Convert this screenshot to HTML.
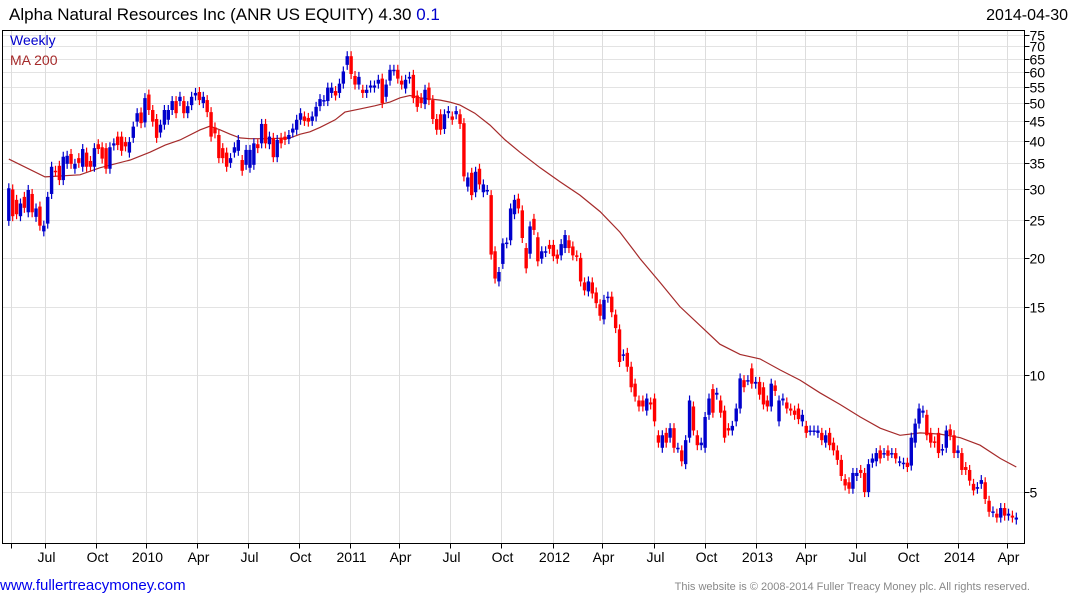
<!DOCTYPE html>
<html><head><meta charset="utf-8">
<style>
html,body{margin:0;padding:0;background:#fff;}
body{width:1075px;height:600px;overflow:hidden;font-family:"Liberation Sans",sans-serif;}
svg{display:block}
</style></head>
<body>
<svg id="chart" width="1075" height="600" xmlns="http://www.w3.org/2000/svg" font-family="Liberation Sans, sans-serif">
  <text x="9" y="20" font-size="17" fill="#000">Alpha Natural Resources Inc (ANR US EQUITY) 4.30 <tspan fill="#0000cc">0.1</tspan></text>
  <text x="1068" y="20" font-size="16" fill="#000" text-anchor="end">2014-04-30</text>
  <g id="grid"></g>
  <g id="ma"></g>
  <g id="candles"></g>
  <rect x="2.5" y="30.5" width="1022" height="513" fill="none" stroke="#000" stroke-width="1"/>
  <g id="axes"></g>
  <text x="10" y="45" font-size="14" fill="#0000cc">Weekly</text>
  <text x="10" y="65" font-size="14" fill="#a52a2a">MA 200</text>
  <text x="0" y="590" font-size="15" fill="#0000ee">www.fullertreacymoney.com</text>
  <text x="1030" y="590" font-size="11" fill="#888" text-anchor="end">This website is © 2008-2014 Fuller Treacy Money plc. All rights reserved.</text>
</svg>
<script>
const opens = [24.9,30.0,28.2,25.6,28.7,26.2,29.2,25.5,27.1,23.4,24.5,29.2,33.5,34.5,31.7,34.9,37.0,33.9,36.1,34.3,37.3,35.5,34.3,39.2,38.5,38.3,33.9,38.9,41.0,41.0,39.7,37.3,40.7,44.8,47.3,44.6,52.6,48.0,45.5,42.0,44.0,45.3,48.0,50.6,50.6,50.6,47.1,49.4,52.3,53.4,
50.0,50.9,47.4,43.3,41.4,38.3,37.3,35.1,37.3,37.7,35.7,34.7,34.1,34.7,39.2,39.4,44.2,39.2,40.7,36.3,40.7,41.0,40.4,42.0,42.7,45.3,46.2,45.8,45.0,46.2,49.1,50.6,50.6,53.1,53.7,53.1,56.1,62.7,66.0,58.7,55.8,54.1,53.1,54.8,54.8,56.1,57.8,51.9,57.1,60.6,
60.9,57.1,54.5,57.8,59.1,52.3,51.5,49.7,54.8,50.9,45.5,46.8,42.9,47.1,46.2,46.8,46.8,44.4,30.5,33.1,29.5,33.9,29.5,29.9,29.0,20.8,17.4,19.3,21.8,22.2,25.9,28.4,26.5,21.2,20.5,25.2,22.6,19.9,20.7,21.6,21.6,20.4,20.3,21.2,22.2,21.4,20.3,20.0,17.3,16.4,
17.3,16.3,15.2,13.9,15.8,15.9,14.3,13.1,11.2,11.4,10.5,9.5,8.6,8.6,8.1,8.5,8.7,7.0,6.5,7.1,6.9,7.3,6.5,6.4,5.9,6.9,8.3,7.0,6.6,6.5,7.9,9.2,8.9,8.6,8.1,7.3,7.2,7.6,8.2,9.7,9.7,10.4,9.5,9.6,9.3,8.6,8.3,9.4,7.6,8.6,
8.5,8.2,8.1,8.2,7.6,7.4,7.2,7.2,7.1,7.1,6.7,7.1,6.7,6.4,6.05,5.4,5.3,5.1,5.5,5.7,5.6,5.0,5.95,6.0,6.4,6.3,6.4,6.3,6.3,6.0,5.9,5.95,5.85,6.7,7.5,8.0,7.9,7.1,6.75,7.1,6.4,6.5,7.25,7.0,6.3,6.3,5.8,5.7,5.25,5.1,
5.25,5.3,4.75,4.44,4.4,4.3,4.55,4.35,4.35,4.25];
const closes = [30.2,25.6,25.9,27.6,26.9,29.9,26.2,26.8,24.2,24.2,28.7,34.3,33.3,31.7,36.4,36.6,34.9,34.9,35.1,38.1,34.3,34.3,38.3,38.1,36.0,33.9,38.5,39.4,39.0,37.7,38.7,39.7,43.5,47.1,44.4,51.5,48.0,44.8,40.7,44.0,48.0,48.0,50.6,47.1,51.9,47.1,49.1,51.9,53.1,50.9,
51.9,47.4,41.0,41.8,36.1,36.1,34.3,36.1,38.5,40.2,33.5,37.9,37.9,39.4,38.3,44.2,39.4,41.0,36.3,40.2,39.4,40.2,41.4,43.0,45.3,47.1,45.0,44.8,46.2,48.9,51.2,50.9,54.8,54.8,52.3,56.1,60.3,66.0,59.4,55.8,58.4,53.1,54.1,55.5,55.5,57.4,50.0,55.8,60.9,60.9,
57.8,55.8,57.4,58.4,51.5,48.9,50.0,54.1,50.9,45.5,42.7,42.7,46.8,47.7,45.3,47.7,44.2,32.4,32.2,29.0,33.3,30.9,30.9,29.9,20.4,17.7,18.4,21.8,21.9,26.8,28.2,26.8,22.5,18.8,24.1,23.6,19.6,20.8,20.8,21.1,20.2,19.9,21.7,22.9,21.2,20.3,20.2,17.4,16.5,17.4,
16.2,15.3,14.2,15.6,15.9,14.5,13.2,10.8,11.3,10.5,9.3,8.8,8.3,8.3,8.7,8.4,7.6,6.7,7.0,6.7,7.3,6.5,6.5,6.0,6.8,8.6,7.2,6.6,6.7,7.8,8.7,8.0,9.0,8.0,6.9,7.2,7.4,8.2,9.8,9.3,9.7,9.5,9.6,8.9,8.4,8.3,9.5,9.1,8.6,8.7,
8.2,8.1,7.9,7.7,7.9,7.1,7.2,7.2,7.2,6.8,7.0,6.6,6.4,6.05,5.5,5.2,5.1,5.6,5.6,5.6,5.0,5.9,6.1,6.3,6.1,6.3,6.2,6.3,6.1,6.0,5.95,5.8,6.9,7.5,8.2,8.1,7.0,6.7,6.7,6.3,6.45,7.2,7.0,6.3,6.4,5.7,5.7,5.35,5.05,5.15,
5.37,4.8,4.45,4.46,4.3,4.55,4.35,4.4,4.3,4.3];
const maIndex = [0,9.3,18.3,23.4,31.2,36.3,40.2,44.0,49.2,51.7,54.3,56.9,59.4,62.0,67.1,72.3,74.9,77.4,80.0,83.9,86.4,90.3,94.1,98.0,100.6,103.1,105.7,110.9,113.4,116.0,119.8,123.7,127.6,131.4,136.6,141.7,146.8,152.0,157.1,162.3,167.4,172.5,177.7,182.8,188.0,193.1,198.3,203.4,208.5,213.7,218.9,224.0,229.1,234.3,239.4,244.6,249.7,254.9,259];
const maValues = [35.9,32.3,32.7,34.1,35.7,37.4,39.0,40.2,42.7,43.6,42.7,41.6,40.7,40.5,40.5,40.7,41.6,42.2,43.3,45.3,47.4,48.3,49.2,50.3,51.6,52.3,51.6,50.9,50.3,49.4,47.1,43.9,40.2,37.4,34.1,31.4,29.0,26.3,23.3,19.9,17.3,15.0,13.4,12.0,11.3,11.0,10.3,9.7,9.0,8.4,7.8,7.3,7.0,7.1,7.05,6.9,6.6,6.1,5.8];
const yTicks = [5,10,15,20,25,30,35,40,45,50,55,60,65,70,75];
const xTickLabels = ["","Jul","Oct","2010","Apr","Jul","Oct","2011","Apr","Jul","Oct","2012","Apr","Jul","Oct","2013","Apr","Jul","Oct","2014","Apr"];
const xTickWeeks = [0.6,9.3,22.4,35.3,48.3,61.4,74.5,87.6,100.4,113.5,126.6,139.8,152.6,165.8,178.9,192.0,204.6,217.7,230.8,243.9,256.5];

const NS="http://www.w3.org/2000/svg";
const PT=30.5, PB=543.5, PL=2.5, PR=1024.5;
function yScale(p){return 375 - 389*Math.log10(p/10);}
function xScale(i){return 8.8 + 3.89*i;}
function mk(tag, attrs, parent){const e=document.createElementNS(NS,tag);for(const k in attrs)e.setAttribute(k,attrs[k]);parent.appendChild(e);return e;}
const grid=document.getElementById('grid'), axes=document.getElementById('axes');
yTicks.forEach(v=>{
  const y=Math.round(yScale(v))+0.5;
  if(y<PT||y>PB) return;
  const gl=mk('line',{x1:PL,x2:PR,y1:y,y2:y,stroke:'#e3e3e3','stroke-width':1},grid);
  
  
  const tk=mk('line',{x1:PR,x2:PR+5,y1:y,y2:y,stroke:'#000'},axes);
  
  
  const t=mk('text',{x:PR+5,y:y+5,'font-size':14,fill:'#000'},axes);
  t.textContent=v;
  
  
});
xTickWeeks.forEach((w,k)=>{
  const x=Math.round(xScale(w))+0.5;
  const gl=mk('line',{x1:x,x2:x,y1:PT,y2:PB,stroke:'#dddddd','stroke-width':1},grid);
  
  
  const tk=mk('line',{x1:x,x2:x,y1:PB,y2:PB+5,stroke:'#000'},axes);
  
  
  if(xTickLabels[k]){
    const t=mk('text',{x:x+1,y:562,'font-size':14,fill:'#000','text-anchor':'middle'},axes);
    t.textContent=xTickLabels[k];
    
    
  }
});
let d='';
maIndex.forEach((w,k)=>{d+=(k?'L':'M')+xScale(w).toFixed(1)+','+yScale(maValues[k]).toFixed(1);});
const ml=mk('path',{d:d,fill:'none',stroke:'#a52a2a','stroke-width':1.2},document.getElementById('ma'));


const cg=document.getElementById('candles');
closes.forEach((c,i)=>{
  const o=opens[i];
  const x=xScale(i);
  const col = c>=o ? '#0000cc' : '#ff0000';
  const yo=yScale(o), yc=yScale(c);
  const top=Math.min(yo,yc), bot=Math.max(yo,yc);
  const wk=mk('line',{x1:x,x2:x,y1:top-5,y2:bot+5,stroke:col,'stroke-width':1.2},cg);
  
  
  const b=mk('rect',{x:x-1.7,y:top,width:3.4,height:Math.max(1.5,bot-top),fill:col},cg);
  
  
});
</script>
</body></html>
